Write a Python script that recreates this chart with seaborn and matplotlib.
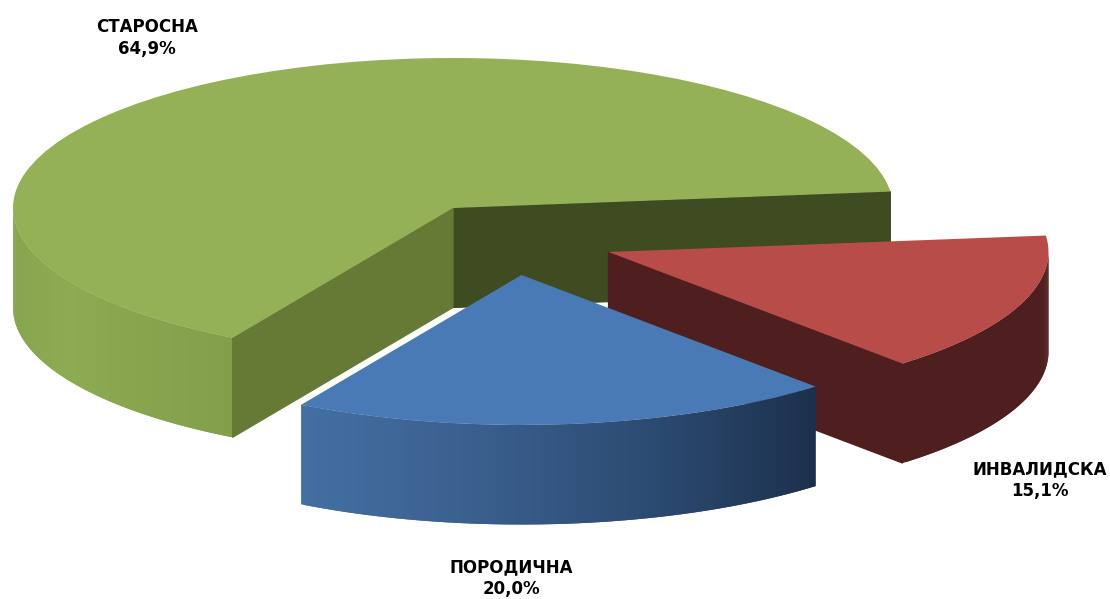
import numpy as np
import matplotlib
matplotlib.use("Agg")
import matplotlib.pyplot as plt
from matplotlib.collections import PolyCollection
from matplotlib.patches import Polygon
from matplotlib.transforms import Affine2D
import seaborn as sns

categories = ["СТАРОСНА", "ПОРОДИЧНА", "ИНВАЛИДСКА"]
shares = [64.9, 20.0, 15.1]

top_colors = ["#94B158", "#4A7AB5", "#B84C49"]
rim_colors = [
    ["#85A34E", "#8DAB52", "#829F4A"],
    ["#446FA3", "#3A5F8E", "#2B4A70", "#1C304C"],
    ["#4F1F1F", "#4F1F1F"],
]
wall_start_colors = ["#3F4B20", None, "#4F1F1F"]
wall_end_colors = ["#667A36", None, None]
layers = [10, 40, 30]

# apex of each slice in pixels
centers = [(453, 208), (521.5, 275), (608.5, 252)]
label_pos = [(147, 38), (511, 578), (1040, 480)]

RX, RY, DEPTH = 440, 150, 99.5
START = 6.3


def rim_point(center, theta, drop=0):
    t = np.radians(theta)
    return center[0] + RX * np.cos(t), center[1] - RY * np.sin(t) + drop


def draw_rim(ax, center, t1, t2, colors, z):
    # only the front half of the ellipse shows a wall
    lo = max(t1, 180)
    hi = min(t2, 360)
    if hi <= lo:
        return
    n = int(hi - lo) * 2
    thetas = np.linspace(lo, hi, n + 1)
    quads = []
    for k in range(n):
        # each strip runs under the next one so no seams show
        a, b = thetas[k], thetas[min(k + 2, n)]
        arc = np.linspace(a, b, 5)
        upper = [rim_point(center, t) for t in arc]
        lower = [rim_point(center, t, DEPTH) for t in arc[::-1]]
        quads.append(upper + lower)
    pal = sns.blend_palette(colors, n_colors=n)
    ax.add_collection(PolyCollection(quads, facecolors=pal, edgecolors="none", zorder=z))


def draw_wall(ax, center, theta, color, z):
    p = rim_point(center, theta)
    pts = [center, p, (p[0], p[1] + DEPTH), (center[0], center[1] + DEPTH)]
    ax.add_patch(Polygon(pts, closed=True, facecolor=color, edgecolor=color,
                         linewidth=0.9, zorder=z))


sns.set_theme(style="white")
plt.rcParams["font.family"] = ["DejaVu Sans"]

fig = plt.figure(figsize=(11.1, 5.99), dpi=100)
ax = fig.add_axes([0, 0, 1, 1])

wedges, _ = ax.pie(shares, startangle=START, counterclock=True, colors=top_colors,
                   frame=True, wedgeprops={"linewidth": 0})

edges = START + np.cumsum([0] + shares) * 3.6
for i, wedge in enumerate(wedges):
    z = layers[i]
    t1, t2 = edges[i], edges[i + 1]
    draw_rim(ax, centers[i], t1, t2, rim_colors[i], z)
    if wall_start_colors[i]:
        draw_wall(ax, centers[i], t1, wall_start_colors[i], z + 1)
    if wall_end_colors[i]:
        draw_wall(ax, centers[i], t2, wall_end_colors[i], z + 2)
    wedge.set_transform(Affine2D().scale(RX, -RY).translate(*centers[i]) + ax.transData)
    wedge.set_zorder(z + 3)

for name, val, (x, y) in zip(categories, shares, label_pos):
    txt = f"{name}\n{val:.1f}%".replace(".", ",")
    ax.text(x, y, txt, ha="center", va="center", fontsize=12, fontweight="bold",
            color="black", linespacing=1.22, zorder=60)

ax.set_xlim(0, 1110)
ax.set_ylim(599, 0)
ax.set_axis_off()

fig.savefig("out.png", dpi=100)
